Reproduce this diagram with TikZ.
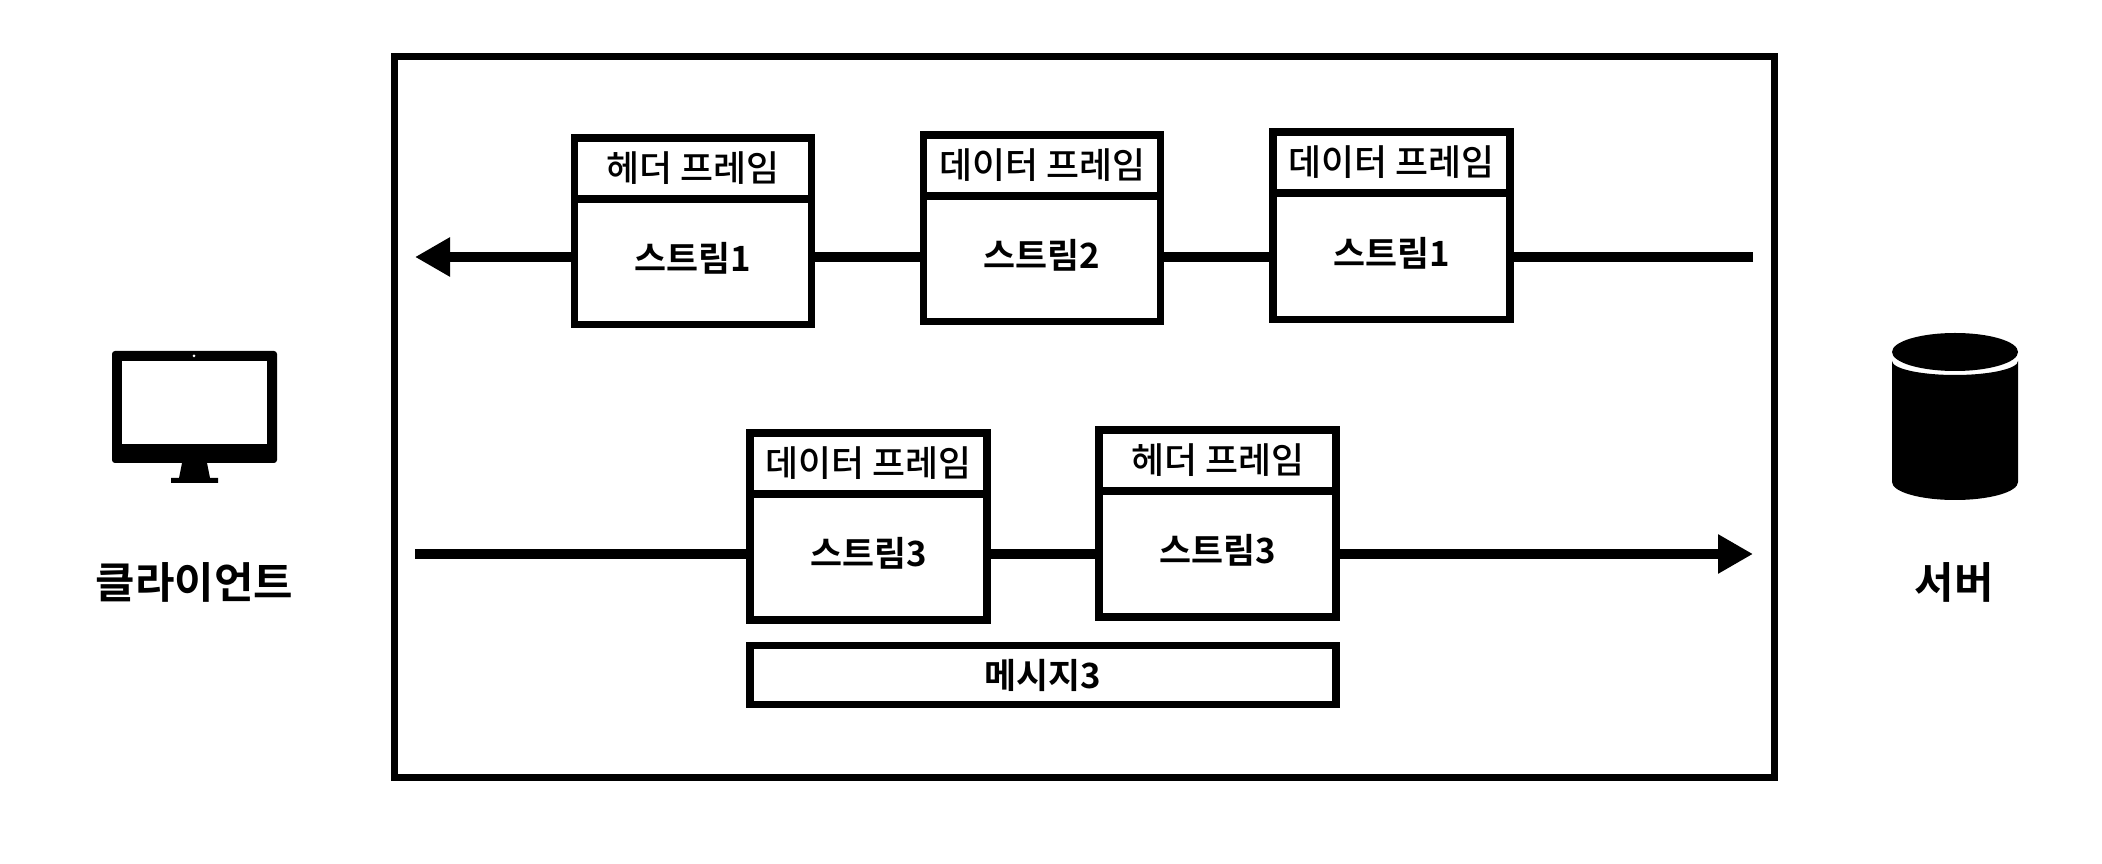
\documentclass[tikz,border=0pt]{standalone}
\usepackage{fontspec}
\setmainfont{Noto Sans CJK KR}[BoldFont={Noto Sans CJK KR Bold}]
\newfontfamily\medfont{Noto Sans CJK KR Medium}
\usetikzlibrary{arrows.meta}
\tikzset{
  framebox/.style={draw,line width=.072cm,inner sep=0pt},
  headbox/.style={framebox,minimum width=2.37cm,minimum height=.61cm,font=\fontsize{10.2}{12}\medfont},
  bodybox/.style={framebox,minimum width=2.37cm,minimum height=1.26cm,font=\fontsize{9.9}{12}\selectfont\bfseries,text depth=.1cm},
  flow/.style={line width=.1cm},
  flowtip/.style={-{Triangle[length=.35cm,width=.37cm]}},
  caption/.style={font=\fontsize{12.2}{14}\selectfont\bfseries}
}
\begin{document}
\begin{tikzpicture}
    \useasboundingbox (0,0) rectangle (21.02,-8.64);
    \node [draw,line width=.07cm,minimum width=13.80cm,minimum height=7.20cm,inner sep=0pt] (outer) at (10.845,-4.17) {};
    % upper row
    \node [headbox] (h1) at (6.93,-1.685) {헤더 프레임};
    \node [bodybox] (b1) at (6.93,-2.615) {스트림1};
    \node [headbox] (h2) at (10.42,-1.655) {데이터 프레임};
    \node [bodybox] (b2) at (10.42,-2.585) {스트림2};
    \node [headbox] (h3) at (13.915,-1.625) {데이터 프레임};
    \node [bodybox] (b3) at (13.915,-2.565) {스트림1};
    % lower row
    \node [headbox] (h4) at (8.685,-4.635) {데이터 프레임};
    \node [bodybox] (b4) at (8.685,-5.57) {스트림3};
    \node [headbox] (h5) at (12.175,-4.605) {헤더 프레임};
    \node [bodybox] (b5) at (12.175,-5.54) {스트림3};
    \node [framebox,minimum width=5.86cm,minimum height=.59cm,font=\fontsize{9.9}{12}\selectfont\bfseries] (msg) at (10.43,-6.75) {메시지3};
    % arrows
    \coordinate (topin) at (17.53,-2.57);
    \coordinate (topout) at (4.15,-2.57);
    \coordinate (lowin) at (4.15,-5.54);
    \coordinate (lowout) at (17.53,-5.54);
    \draw [flow] (topin) -- (topin -| b3.east);
    \draw [flow] (topin -| b3.west) -- (topin -| b2.east);
    \draw [flow] (topin -| b2.west) -- (topin -| b1.east);
    \draw [flow,flowtip] (topin -| b1.west) -- (topout);
    \draw [flow] (lowin) -- (lowin -| b4.west);
    \draw [flow] (lowin -| b4.east) -- (lowin -| b5.west);
    \draw [flow,flowtip] (lowin -| b5.east) -- (lowout);
    % client
    \fill [rounded corners=.03cm] (1.12,-3.51) rectangle (2.77,-4.63);
    \fill [white] (1.22,-3.61) rectangle (2.67,-4.44);
    \fill [white] (1.94,-3.56) circle (.015);
    \fill (1.82,-4.63) -- (2.07,-4.63) -- (2.10,-4.78) -- (2.18,-4.78) -- (2.18,-4.83) -- (1.71,-4.83) -- (1.71,-4.78) -- (1.79,-4.78) -- cycle;
    \node [caption] (client) at (1.945,-5.82) {클라이언트};
    % server
    \fill (19.55,-3.52) ellipse (.63 and .19);
    \fill (18.92,-3.61) -- (18.92,-4.82) arc (180:360:.63 and .18) -- (20.18,-3.61) arc (0:-180:.63 and .14) -- cycle;
    \node [caption] (server) at (19.54,-5.82) {서버};
\end{tikzpicture}
\end{document}
